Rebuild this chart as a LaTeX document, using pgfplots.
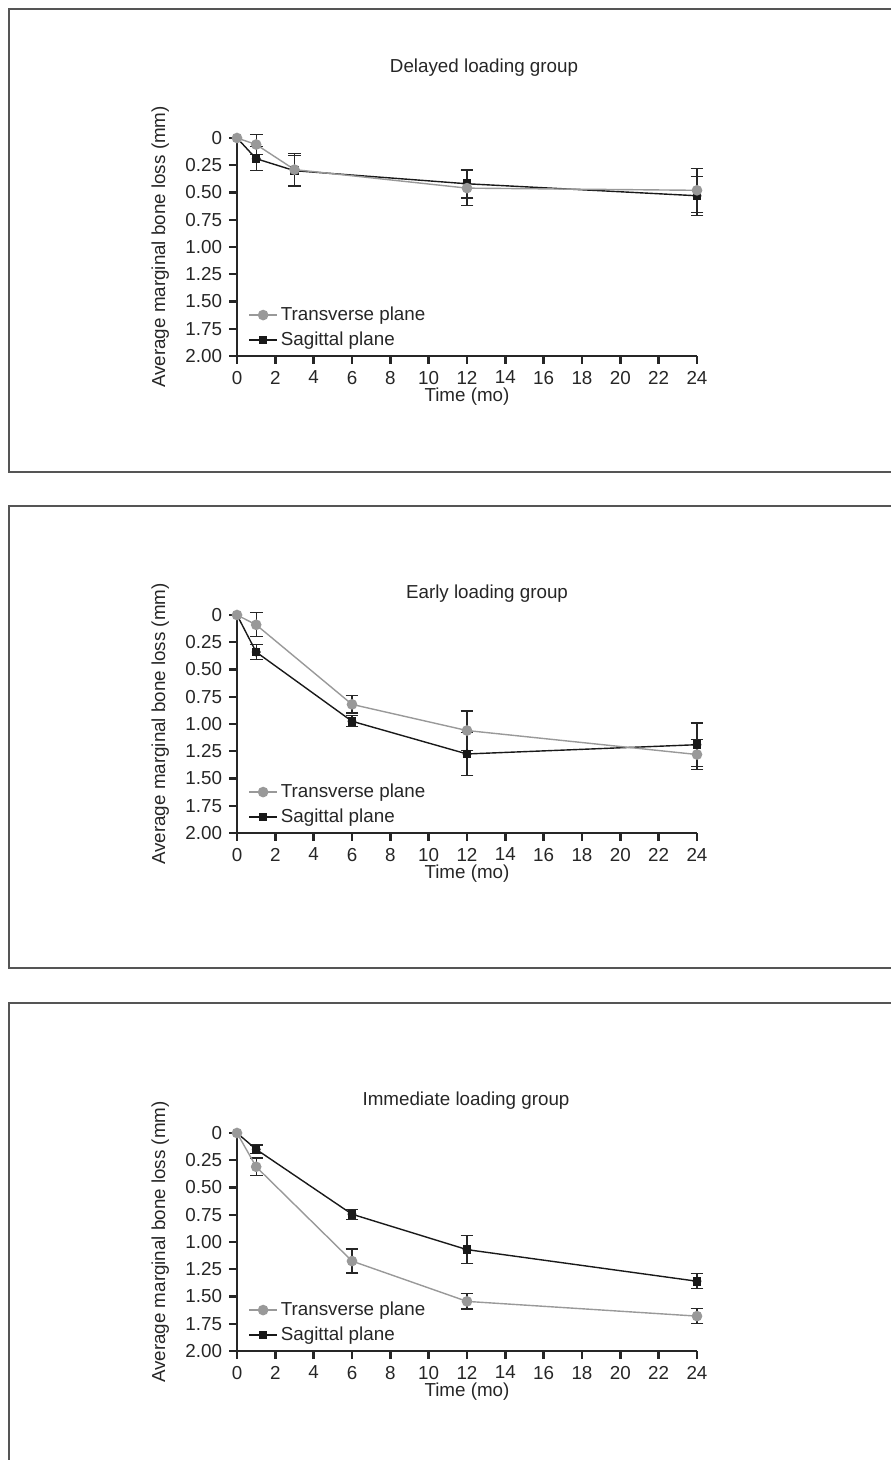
\documentclass[border=0pt]{standalone}
\usepackage{pgfplots}
\pgfplotsset{compat=1.18}
\usepackage{pgfplotstable}
\usepackage{fontspec}
\setmainfont{Liberation Sans}
\definecolor{tgray}{RGB}{153,153,153}
\definecolor{framec}{RGB}{85,85,85}
\newcommand{\fs}{\fontsize{9.4bp}{11bp}\selectfont}

% Delayed loading group
\pgfplotstableread{
x y e
0 0 0
1 0.06 0.09
3 0.29 0.15
12 0.46 0.16
24 0.48 0.20
}\dT
\pgfplotstableread{
x y e
0 0 0
1 0.19 0.11
3 0.30 0.14
12 0.42 0.13
24 0.53 0.18
}\dS
% Early loading group
\pgfplotstableread{
x y e
0 0 0
1 0.09 0.11
6 0.82 0.08
12 1.06 0.18
24 1.28 0.14
}\eT
\pgfplotstableread{
x y e
0 0 0
1 0.34 0.07
6 0.975 0.05
12 1.275 0.20
24 1.19 0.20
}\eS
% Immediate loading group
\pgfplotstableread{
x y e
0 0 0
1 0.31 0.08
6 1.175 0.11
12 1.545 0.07
24 1.68 0.07
}\iT
\pgfplotstableread{
x y e
0 0 0
1 0.15 0.04
6 0.745 0.045
12 1.07 0.13
24 1.36 0.07
}\iS

\pgfplotsset{
 panel/.style={
  scale only axis, width=230bp, height=109bp,
  xmin=0, xmax=24, ymin=0, ymax=2, y dir=reverse,
  axis x line*=bottom, axis y line*=left,
  axis line style={line width=1.2bp, black!85},
  xtick={0,2,...,24}, ytick={0,0.25,...,2},
  yticklabels={0,0.25,0.50,0.75,1.00,1.25,1.50,1.75,2.00},
  tick align=outside, major tick length=4bp,
  tick style={line width=1.2bp, black!85},
  ticklabel style={font=\fs, text=black!85},
  /pgf/number format/assume math mode=true,
  xlabel={Time (mo)}, ylabel={Average marginal bone loss (mm)},
  label style={font=\fs, text=black!85},
  xlabel style={at={(axis description cs:0.5,-0.188)}, anchor=center},
  ylabel style={at={(axis description cs:-0.167,0.5)}, anchor=center},
  clip=false,
  legend style={draw=none, fill=none, at={(axis description cs:0.024,0.24)}, anchor=north west,
    inner sep=0pt, row sep=1.5bp, column sep=0.5bp,
    nodes={inner sep=1bp, text height=7bp, text depth=2bp, font=\fs, text=black!85}},
  legend cell align=left, reverse legend,
  legend image code/.code={\draw[mark repeat=2,mark phase=2,##1] plot coordinates {(0bp,0bp) (7bp,0bp) (14bp,0bp)};},
 },
 tser/.style={color=tgray, line width=0.7bp, mark=*, mark size=2.3bp, mark options={fill=tgray, draw=tgray}},
 sser/.style={color=black!90, line width=0.7bp, mark=square*, mark size=1.8bp, mark options={fill=black!90, draw=black!90}},
 ebar/.style={only marks, mark=none, forget plot,
   error bars/.cd, y dir=both, y explicit,
   error bar style={solid, draw=black!85, line width=0.6bp},
   error mark options={rotate=90, mark size=3.2bp, line width=0.6bp, draw=black!85}},
}

\begin{document}
\begin{tikzpicture}
\path[use as bounding box] (0,0) rectangle (445.5bp,730bp);
\clip (0,0) rectangle (445.5bp,730bp);
% frames
\draw[framec, line width=1bp] (470bp,725.5bp) -- (4.5bp,725.5bp) -- (4.5bp,494bp) -- (470bp,494bp);
\draw[framec, line width=1bp] (470bp,477bp) -- (4.5bp,477bp) -- (4.5bp,246bp) -- (470bp,246bp);
\draw[framec, line width=1bp] (470bp,228.5bp) -- (4.5bp,228.5bp) -- (4.5bp,-10bp);

% Delayed
\begin{axis}[panel, at={(118.5bp,552bp)}, anchor=south west]
\addplot[ebar] table[x=x,y=y,y error=e, skip coords between index={0}{1}] {\dS};
\addplot[ebar] table[x=x,y=y,y error=e, skip coords between index={0}{1}] {\dT};
\addplot[sser] table[x=x,y=y] {\dS};
\addlegendentry{Sagittal plane}
\addplot[tser] table[x=x,y=y] {\dT};
\addlegendentry{Transverse plane}
\end{axis}
\node[font=\fs, text=black!85] at (242bp,696bp) {Delayed loading group};

% Early
\begin{axis}[panel, at={(118.5bp,313.5bp)}, anchor=south west]
\addplot[ebar] table[x=x,y=y,y error=e, skip coords between index={0}{1}] {\eS};
\addplot[ebar] table[x=x,y=y,y error=e, skip coords between index={0}{1}] {\eT};
\addplot[sser] table[x=x,y=y] {\eS};
\addlegendentry{Sagittal plane}
\addplot[tser] table[x=x,y=y] {\eT};
\addlegendentry{Transverse plane}
\end{axis}
\node[font=\fs, text=black!85] at (243.5bp,433bp) {Early loading group};

% Immediate
\begin{axis}[panel, at={(118.5bp,54.5bp)}, anchor=south west]
\addplot[ebar] table[x=x,y=y,y error=e, skip coords between index={0}{1}] {\iS};
\addplot[ebar] table[x=x,y=y,y error=e, skip coords between index={0}{1}] {\iT};
\addplot[sser] table[x=x,y=y] {\iS};
\addlegendentry{Sagittal plane}
\addplot[tser] table[x=x,y=y] {\iT};
\addlegendentry{Transverse plane}
\end{axis}
\node[font=\fs, text=black!85] at (233bp,179.5bp) {Immediate loading group};
\end{tikzpicture}
\end{document}
